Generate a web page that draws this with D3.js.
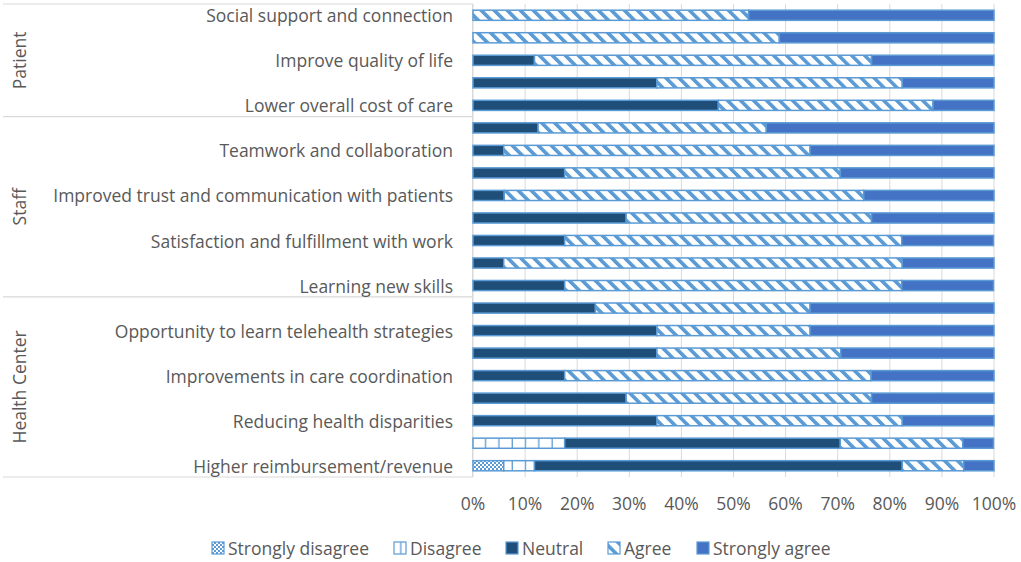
<!DOCTYPE html>
<html>
<head>
<meta charset="utf-8">
<script src="https://cdn.jsdelivr.net/npm/d3@7"></script>
<style>
  html, body { margin: 0; padding: 0; background: #fff; }
  svg { display: block; }
  text { font-family: "Open Sans", "Noto Sans", sans-serif; fill: #595959; }
</style>
</head>
<body>
<svg id="chart" width="1021" height="562"></svg>
<script>
// ---- data ----
const categories = [
  "Social support and connection", "",
  "Improve quality of life", "",
  "Lower overall cost of care", "",
  "Teamwork and collaboration", "",
  "Improved trust and communication with patients", "",
  "Satisfaction and fulfillment with work", "",
  "Learning new skills", "",
  "Opportunity to learn telehealth strategies", "",
  "Improvements in care coordination", "",
  "Reducing health disparities", "",
  "Higher reimbursement/revenue"
];
const groups = ["Patient", "Staff", "Health Center"];
const groupSizes = [5, 8, 8];
const seriesNames = ["Strongly disagree", "Disagree", "Neutral", "Agree", "Strongly agree"];
const stronglyDisagree = [0,0,0,0,0,0,0,0,0,0,0,0,0,0,0,0,0,0,0,0,5.9];
const disagree         = [0,0,0,0,0,0,0,0,0,0,0,0,0,0,0,0,0,0,0,17.6,5.9];
const neutral          = [0,0,11.8,35.3,47.1,12.5,5.9,17.6,6.0,29.4,17.6,5.9,17.6,23.5,35.3,35.3,17.6,29.4,35.3,52.9,70.6];
const agree            = [52.9,58.8,64.7,47.1,41.2,43.8,58.8,52.9,69.0,47.1,64.7,76.5,64.7,41.2,29.4,35.3,58.8,47.1,47.1,23.5,11.8];
const stronglyAgree    = [47.1,41.2,23.5,17.6,11.7,43.7,35.3,29.5,25.0,23.5,17.6,17.6,17.6,35.3,35.3,29.4,23.6,23.5,17.6,5.9,5.8];
const xTicks = [0,10,20,30,40,50,60,70,80,90,100];

// ---- build table ----
const seriesArrays = [stronglyDisagree, disagree, neutral, agree, stronglyAgree];
const table = categories.map((c, i) => {
  const row = { idx: i, name: c };
  seriesNames.forEach((s, k) => row[s] = seriesArrays[k][i]);
  return row;
});
const stacked = d3.stack().keys(seriesNames)(table);

const svg = d3.select("#chart");
const FS = 17.5;
const plotLeft = 473, plotRight = 994, plotTop = 4, plotBottom = 477;
const x = d3.scaleLinear().domain([0, 100]).range([plotLeft, plotRight]);
const y = d3.scaleBand().domain(d3.range(categories.length)).range([plotTop, plotBottom])
  .paddingInner(0.55).paddingOuter(0.275);

const blue = "#5B9BD5";
// ---- patterns ----
const defs = svg.append("defs");
const pSD = defs.append("pattern").attr("id", "pSD").attr("patternUnits", "userSpaceOnUse")
  .attr("width", 4).attr("height", 4);
pSD.append("rect").attr("width", 4).attr("height", 4).attr("fill", "#fff");
pSD.append("rect").attr("width", 2).attr("height", 2).attr("fill", blue);
pSD.append("rect").attr("x", 2).attr("y", 2).attr("width", 2).attr("height", 2).attr("fill", blue);

const pD = defs.append("pattern").attr("id", "pD").attr("patternUnits", "userSpaceOnUse")
  .attr("width", 13.3).attr("height", 10).attr("x", plotLeft);
pD.append("rect").attr("width", 13.3).attr("height", 10).attr("fill", "#fff");
pD.append("rect").attr("x", 12).attr("width", 2.5).attr("height", 10).attr("fill", blue);

const pA = defs.append("pattern").attr("id", "pA").attr("patternUnits", "userSpaceOnUse")
  .attr("width", 9.2).attr("height", 9.2).attr("patternTransform", "rotate(-45)");
pA.append("rect").attr("width", 9.2).attr("height", 9.2).attr("fill", "#fff");
pA.append("rect").attr("width", 3.6).attr("height", 9.2).attr("fill", blue);

const fills = {
  "Strongly disagree": "url(#pSD)",
  "Disagree": "url(#pD)",
  "Neutral": "#1F4E79",
  "Agree": "url(#pA)",
  "Strongly agree": "#4472C4"
};

// ---- gridlines ----
svg.append("g").selectAll("line").data(xTicks).join("line")
  .attr("x1", d => x(d)).attr("x2", d => x(d))
  .attr("y1", plotTop).attr("y2", plotBottom)
  .attr("stroke", "#D9D9D9").attr("stroke-width", 1);

// ---- category axis line + group separators ----
svg.append("line").attr("x1", plotLeft - 0.5).attr("x2", plotLeft - 0.5)
  .attr("y1", plotTop).attr("y2", plotBottom).attr("stroke", "#D9D9D9");
let cum = 0;
const sepIdx = [0];
groupSizes.forEach(n => { cum += n; sepIdx.push(cum); });
const step = y.step();
const yAt = i => plotTop + i * step;
svg.append("g").selectAll("line").data(sepIdx).join("line")
  .attr("x1", 3).attr("x2", plotLeft)
  .attr("y1", d => yAt(d)).attr("y2", d => yAt(d))
  .attr("stroke", "#D9D9D9").attr("stroke-width", 1.2);

// group labels
svg.append("g").selectAll("text").data(groups).join("text")
  .attr("transform", (d, i) => `translate(19,${(yAt(sepIdx[i]) + yAt(sepIdx[i + 1])) / 2}) rotate(-90)`)
  .attr("text-anchor", "middle").attr("dominant-baseline", "central")
  .attr("font-size", FS).text(d => d);

// category labels
svg.append("g").selectAll("text").data(table.filter(d => d.name !== "")).join("text")
  .attr("x", 453).attr("y", d => y(d.idx) + y.bandwidth() / 2)
  .attr("text-anchor", "end").attr("dominant-baseline", "central")
  .attr("font-size", FS).text(d => d.name);

// ---- bars ----
svg.append("g").selectAll("g").data(stacked).join("g")
  .attr("fill", d => fills[d.key])
  .selectAll("rect").data(d => d.filter(s => s[1] - s[0] > 0)).join("rect")
  .attr("x", d => x(d[0]))
  .attr("width", d => x(d[1]) - x(d[0]))
  .attr("y", d => y(d.data.idx))
  .attr("height", y.bandwidth())
  .attr("stroke", blue).attr("stroke-width", 1.5);

// ---- x axis labels ----
svg.append("g").selectAll("text").data(xTicks).join("text")
  .attr("x", d => x(d)).attr("y", 503)
  .attr("text-anchor", "middle").attr("dominant-baseline", "central")
  .attr("font-size", FS).text(d => d + "%");

// ---- legend ----
const legendX = [212, 394, 506, 608, 697];
const lg = svg.append("g").selectAll("g").data(seriesNames).join("g")
  .attr("transform", (d, i) => `translate(${legendX[i]},548)`);
lg.append("rect").attr("x", 0).attr("y", -6).attr("width", 12).attr("height", 12)
  .attr("fill", d => fills[d]).attr("stroke", blue).attr("stroke-width", 1.2);
lg.append("text").attr("x", 16).attr("y", 0).attr("dominant-baseline", "central")
  .attr("font-size", FS).text(d => d);
</script>
</body>
</html>
